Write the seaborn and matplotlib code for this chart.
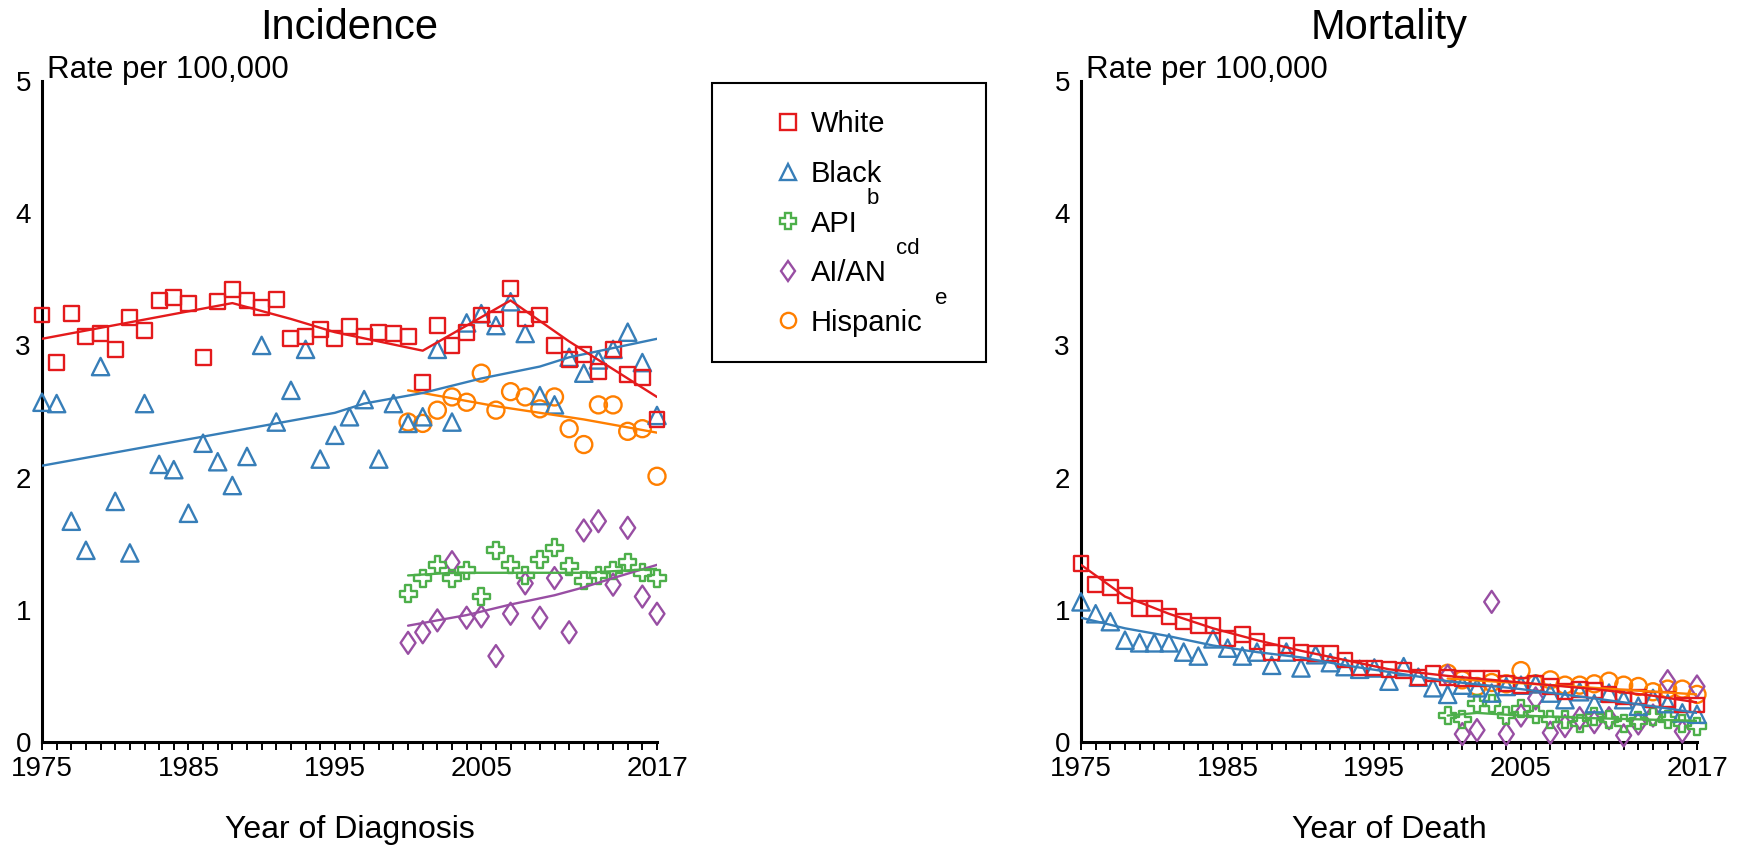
import numpy as np
import matplotlib
matplotlib.use("Agg")
import matplotlib.pyplot as plt
import seaborn as sns
from matplotlib.lines import Line2D
from matplotlib.markers import MarkerStyle
from matplotlib.patches import Rectangle
from matplotlib.transforms import Affine2D

years = np.arange(1975, 2018)
years_recent = np.arange(2000, 2018)
label_years = [1975, 1985, 1995, 2005, 2017]
y_ticks = [0, 1, 2, 3, 4, 5]
grid_levels = [1, 2, 3, 4]

groups = ["White", "Black", "API", "AI/AN", "Hispanic"]
notes = {"API": "b", "AI/AN": "cd", "Hispanic": "e"}
colors = {"White": "#e41a1c", "Black": "#377eb8", "API": "#4daf4a",
          "AI/AN": "#984ea3", "Hispanic": "#ff7f00"}
diamond = MarkerStyle("D", transform=Affine2D().scale(0.68, 1.0))
markers = {"White": "s", "Black": "^", "API": "P", "AI/AN": diamond, "Hispanic": "o"}
sizes = {"White": 115, "Black": 155, "API": 150, "AI/AN": 125, "Hispanic": 150}

# incidence, observed rates
inc_white = [3.23, 2.87, 3.24, 3.07, 3.09, 2.97, 3.21, 3.11, 3.34, 3.36, 3.32, 2.91, 3.33, 3.42,
             3.34, 3.29, 3.35, 3.05, 3.07, 3.12, 3.05, 3.14, 3.07, 3.10, 3.09, 3.07, 2.72, 3.15,
             3.00, 3.10, 3.23, 3.20, 3.43, 3.20, 3.23, 3.00, 2.89, 2.93, 2.80, 2.97, 2.78, 2.76, 2.44]
inc_black = [2.57, 2.56, 1.67, 1.45, 2.84, 1.82, 1.43, 2.56, 2.10, 2.06, 1.73, 2.26, 2.12, 1.94,
             2.16, 3.00, 2.42, 2.66, 2.97, 2.14, 2.32, 2.46, 2.59, 2.14, 2.56, 2.41, 2.46, 2.97,
             2.42, 3.17, 3.24, 3.15, 3.33, 3.09, 2.62, 2.55, 2.91, 2.79, 2.89, 2.97, 3.10, 2.87, 2.47]
inc_api = [1.12, 1.24, 1.34, 1.24, 1.30, 1.10, 1.45, 1.34, 1.26, 1.38, 1.47, 1.33, 1.22, 1.26,
           1.30, 1.36, 1.28, 1.24]
inc_aian = [0.75, 0.83, 0.92, 1.36, 0.94, 0.95, 0.65, 0.97, 1.20, 0.94, 1.24, 0.83, 1.60, 1.67,
            1.19, 1.62, 1.10, 0.97]
inc_hisp = [2.42, 2.41, 2.51, 2.61, 2.57, 2.79, 2.51, 2.65, 2.61, 2.52, 2.61, 2.37, 2.25, 2.55,
            2.55, 2.35, 2.37, 2.01]

# incidence, fitted trends
inc_white_fit_x = [1975, 1988, 1990, 1992, 1995, 2001, 2007, 2011, 2017]
inc_white_fit_y = [3.05, 3.32, 3.26, 3.20, 3.10, 2.96, 3.34, 3.03, 2.61]
inc_black_fit_x = [1975, 1995, 1997, 2001, 2005, 2009, 2011, 2017]
inc_black_fit_y = [2.09, 2.49, 2.56, 2.64, 2.75, 2.84, 2.91, 3.05]
inc_api_fit_x = [2000, 2003, 2012, 2017]
inc_api_fit_y = [1.26, 1.28, 1.28, 1.31]
inc_aian_fit_x = [2000, 2004, 2007, 2010, 2012, 2014, 2017]
inc_aian_fit_y = [0.88, 0.96, 1.04, 1.11, 1.17, 1.24, 1.34]
inc_hisp_fit_x = [2000, 2006, 2012, 2017]
inc_hisp_fit_y = [2.66, 2.54, 2.44, 2.34]

# mortality, observed rates
mort_white = [1.35, 1.19, 1.17, 1.11, 1.01, 1.01, 0.95, 0.91, 0.88, 0.88, 0.78, 0.81, 0.76, 0.68,
              0.73, 0.68, 0.67, 0.67, 0.62, 0.56, 0.56, 0.55, 0.54, 0.49, 0.52, 0.49, 0.48, 0.48,
              0.48, 0.44, 0.43, 0.44, 0.42, 0.38, 0.40, 0.39, 0.36, 0.34, 0.34, 0.32, 0.32, 0.28, 0.28]
mort_black = [1.06, 0.97, 0.91, 0.77, 0.75, 0.75, 0.75, 0.68, 0.65, 0.78, 0.71, 0.65, 0.68, 0.58,
              0.68, 0.56, 0.66, 0.60, 0.57, 0.55, 0.56, 0.46, 0.57, 0.49, 0.41, 0.36, 0.43, 0.41,
              0.37, 0.42, 0.43, 0.44, 0.37, 0.32, 0.38, 0.29, 0.37, 0.32, 0.27, 0.33, 0.29, 0.22, 0.21]
mort_api = [0.20, 0.17, 0.29, 0.29, 0.20, 0.25, 0.21, 0.17, 0.17, 0.14, 0.19, 0.17, 0.14, 0.16,
            0.19, 0.17, 0.14, 0.12]
mort_aian = [0.50, 0.06, 0.09, 1.06, 0.06, 0.20, 0.33, 0.07, 0.12, 0.18, 0.15, 0.18, 0.05, 0.14,
             0.20, 0.46, 0.08, 0.42]
mort_hisp = [0.52, 0.47, 0.42, 0.45, 0.44, 0.54, 0.44, 0.47, 0.43, 0.43, 0.44, 0.46, 0.43, 0.42,
             0.38, 0.40, 0.40, 0.36]

# mortality, fitted trends
mort_fit_x = [1975, 1978, 1981, 1984, 1987, 1990, 1993, 1996, 2000, 2005, 2010, 2014, 2017]
mort_white_fit_y = [1.34, 1.10, 0.97, 0.86, 0.77, 0.69, 0.62, 0.55, 0.50, 0.45, 0.40, 0.35, 0.30]
mort_black_fit_y = [0.94, 0.86, 0.80, 0.73, 0.68, 0.64, 0.58, 0.53, 0.46, 0.40, 0.33, 0.27, 0.22]
mort_api_fit_x = [2000, 2002, 2005, 2010, 2017]
mort_api_fit_y = [0.20, 0.22, 0.20, 0.18, 0.16]
mort_hisp_fit_x = [2000, 2017]
mort_hisp_fit_y = [0.48, 0.36]

incidence = {
    "White": (years, inc_white, inc_white_fit_x, inc_white_fit_y),
    "Black": (years, inc_black, inc_black_fit_x, inc_black_fit_y),
    "API": (years_recent, inc_api, inc_api_fit_x, inc_api_fit_y),
    "AI/AN": (years_recent, inc_aian, inc_aian_fit_x, inc_aian_fit_y),
    "Hispanic": (years_recent, inc_hisp, inc_hisp_fit_x, inc_hisp_fit_y),
}
mortality = {
    "White": (years, mort_white, mort_fit_x, mort_white_fit_y),
    "Black": (years, mort_black, mort_fit_x, mort_black_fit_y),
    "API": (years_recent, mort_api, mort_api_fit_x, mort_api_fit_y),
    "AI/AN": (years_recent, mort_aian, None, None),
    "Hispanic": (years_recent, mort_hisp, mort_hisp_fit_x, mort_hisp_fit_y),
}

sns.set_theme(style="white")
plt.rcParams['font.family'] = ['Liberation Sans', 'DejaVu Sans']
plt.rcParams['text.color'] = 'black'
plt.rcParams['axes.labelcolor'] = 'black'
plt.rcParams['xtick.color'] = 'black'
plt.rcParams['ytick.color'] = 'black'

W, H = 1741, 849
fig = plt.figure(figsize=(W / 100, H / 100), dpi=100)
ax_inc = fig.add_axes([42 / W, 107 / H, 615 / W, 661 / H])
ax_mort = fig.add_axes([1081 / W, 107 / H, 616 / W, 661 / H])


def draw_panel(ax, data, title, xlabel):
    for name in ["Hispanic", "AI/AN", "API", "Black", "White"]:
        x, y, fx, fy = data[name]
        c = colors[name]
        sns.scatterplot(x=x, y=y, marker=markers[name], s=sizes[name], color=c,
                        facecolor='none', edgecolor=c, linewidth=1.7,
                        clip_on=False, zorder=3, ax=ax)
        if fx is not None:
            sns.lineplot(x=fx, y=fy, color=c, linewidth=1.7, zorder=4, ax=ax)

    ax.set_xlim(1975, 2017)
    ax.set_ylim(0, 5)
    for s in ['top', 'right']:
        ax.spines[s].set_visible(False)
    for s in ['left', 'bottom']:
        ax.spines[s].set_linewidth(2.2)
        ax.spines[s].set_color('black')
    ax.set_xticks(years, labels=[str(yr) if yr in label_years else '' for yr in years])
    ax.tick_params(axis='x', bottom=True, length=6, width=1.4, color='black',
                   direction='out', pad=4, labelsize=20, labelcolor='black')
    ax.set_yticks(y_ticks)
    ax.tick_params(axis='y', left=False, length=0, pad=8, labelsize=20, labelcolor='black')
    ax.set_yticks(grid_levels, minor=True)
    ax.tick_params(axis='y', which='minor', length=0)
    ax.grid(False)
    ax.yaxis.grid(True, which='minor', color='#e8e8e8', linestyle=(0, (6, 4)), linewidth=1.5)
    ax.set_axisbelow(True)
    ax.set_xlabel('')
    ax.set_ylabel('')

    ax.text(0.5, 1 + 42 / 661, title, transform=ax.transAxes, ha='center',
            va='baseline', fontsize=30, color='black')
    ax.text(0.008, 1 + 3 / 661, 'Rate per 100,000', transform=ax.transAxes,
            ha='left', va='baseline', fontsize=22.5, color='black')
    ax.text(0.5, -96 / 661, xlabel, transform=ax.transAxes, ha='center',
            va='baseline', fontsize=23, color='black')


draw_panel(ax_inc, incidence, 'Incidence', 'Year of Diagnosis')
draw_panel(ax_mort, mortality, 'Mortality', 'Year of Death')

legend_sizes = {"White": 11, "Black": 11, "API": 11, "AI/AN": 10, "Hispanic": 11}
handles = [Line2D([], [], marker=markers[g], linestyle='', markerfacecolor='none',
                  markeredgecolor=colors[g], markersize=legend_sizes[g], markeredgewidth=1.7)
           for g in groups]
fig.legend(handles, groups, loc='center left', bbox_to_anchor=(776 / W, 1 - 223.5 / H),
           bbox_transform=fig.transFigure, frameon=False, fontsize=21,
           handlelength=0.8, handletextpad=0.4, labelspacing=0.74,
           borderpad=0, borderaxespad=0)
fig.patches.append(Rectangle((712 / W, 1 - 362 / H), 274 / W, 279 / H,
                             transform=fig.transFigure, fill=False,
                             edgecolor='black', linewidth=1.5))
note_pos = {"API": (873, 198), "AI/AN": (908, 249), "Hispanic": (941, 298)}
for g, (px, py) in note_pos.items():
    fig.text(px / W, 1 - py / H, notes[g], ha='center', va='center', fontsize=16,
             color='black')

fig.savefig('out.png', dpi=100)
